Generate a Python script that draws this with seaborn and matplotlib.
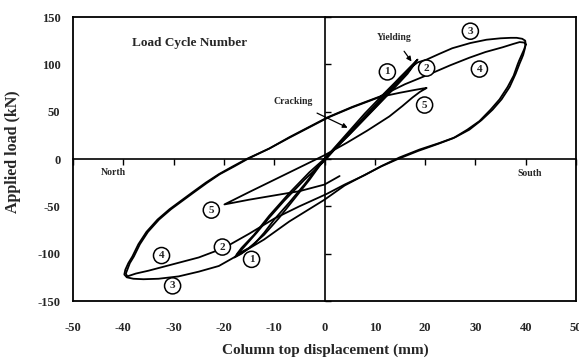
import matplotlib
matplotlib.use("Agg")
import matplotlib.pyplot as plt
import seaborn as sns
import pandas as pd

# ---- data ----
x_cycle1 = [0, 4, 8, 12, 15, 17, 18.5, 17, 14, 10, 6, 2, 0, -4, -8, -11, -13.5, -16, -17.9,
            -16.5, -14, -12, -10, -7, -4, 0]
y_cycle1 = [0, 22, 45, 68, 86, 97, 105, 95, 77, 54, 32, 10, -2, -22, -44, -62, -78, -93, -104,
            -100, -90, -78, -64, -46, -27, 0]

x_cycle2 = [0, 5, 10, 14, 16.5, 18, 16.5, 13, 9, 5, 1, -3, -7, -11, -14, -16.5, -17.5,
            -15, -12, -9, -6, -3, 0]
y_cycle2 = [0, 28, 56, 78, 92, 101, 90, 70, 48, 26, 5, -14, -36, -60, -80, -94, -101,
            -94, -80, -62, -42, -22, 0]

x_cycle3 = [0, 4, 8, 12, 15, 17, 18.5, 20.3, 22.8, 25.4, 29, 32.2, 35, 37, 38.2, 39.3, 39.9, 40,
            39.8, 39.5, 39.2, 38.8, 38, 36.8, 35.2, 33.4, 31.2, 28.8, 26, 22.9, 18.9, 14.9, 11.5,
            8.3, 4, 0, -7, -12, -18, -21, -25, -29, -33, -36, -38, -39.3, -39.8,
            -39.6, -39, -38.2, -37, -35.4, -33.2, -30.8, -28.5, -26.2, -23.6, -21, -18.3, -15.5,
            -11, -7, 0.6, 5.5, 11, 16, 21.5, 25, 28.8, 32, 35.4, 37.5, 38.8, 39.7, 40]
y_cycle3 = [0, 24, 48, 70, 86, 96, 102, 105, 111, 117, 122.5, 126, 127.5, 128, 128, 127, 125, 121,
            116, 110, 106, 101, 90, 76, 63, 52, 41, 31, 23, 17, 10, 1.6, -7,
            -16, -28, -43, -66, -85, -104, -113, -119, -124, -126.5, -127, -126.5, -125, -122,
            -117, -110, -103, -90, -77, -64, -53, -44, -35, -25, -16, -8, 0,
            11, 23, 44, 55, 66, 79, 91, 99, 107, 113, 118, 121.5, 123.5, 123, 121]

x_cycle4 = [40, 39.7, 39.2, 38.7, 38.4, 37.6, 36.4, 34.8, 33, 30.8, 28.4, 25.6, 22.6, 18.6,
            14.6, 11.2, 8, 4, 0.4, -5, -10, -15, -20, -25, -30, -35, -37.5, -39.2,
            -39.5, -39.2, -38.7, -37.9, -36.7, -35.1, -32.9, -30.5, -28.2, -25.9, -23.3, -20.8,
            -18, -15.3, -11, -6.8, 0.8, 5.5, 11]
y_cycle4 = [121, 116, 110, 104, 100, 88, 76, 63, 52, 40, 31, 22, 16, 8.5,
            0, -8, -17, -27, -37, -50, -63, -79, -94, -104, -111, -118, -121, -124,
            -121, -117, -110, -103, -90, -77, -64, -53, -44, -35, -25, -16,
            -8, 0, 11, 23, 44, 54.5, 65.5]

x_cycle5 = [11, 15, 18, 19.6, 20.3, 19, 17.5, 15.5, 12.9, 8.5, 4.4, 0, -5, -10, -15, -19.9,
            -15, -10, -5, 0, 3]
y_cycle5 = [65.5, 70, 73, 74.5, 75, 71, 65, 56, 45, 30, 17, 4, -9, -22, -35, -48,
            -43, -38.5, -34, -27, -18]

cycle_names = ["1", "2", "3", "4", "5"]
label_x_pos = [12.5, 20.3, 29.0, 30.8, 19.9]
label_y_pos = [92, 96, 135, 95, 57]
label_x_neg = [-14.5, -20.3, -30.2, -32.4, -22.5]
label_y_neg = [-106, -93, -134, -102, -54]

x_ticks = [-50, -40, -30, -20, -10, 0, 10, 20, 30, 40, 50]
y_ticks = [-150, -100, -50, 0, 50, 100, 150]

# ---- style ----
sns.set_theme(style="white")
plt.rcParams["font.family"] = ["Liberation Serif", "DejaVu Serif"]
plt.rcParams["font.weight"] = "bold"

fig = plt.figure(figsize=(5.79, 3.58), dpi=100)
pos = [73 / 579, 1 - 301 / 358, (576 - 73) / 579, (301 - 17) / 358]
ax = fig.add_axes(pos)

frames = []
for name, xs, ys in zip(cycle_names,
                        [x_cycle1, x_cycle2, x_cycle3, x_cycle4, x_cycle5],
                        [y_cycle1, y_cycle2, y_cycle3, y_cycle4, y_cycle5]):
    frames.append(pd.DataFrame({"disp": xs, "load": ys, "cycle": name}))
df = pd.concat(frames, ignore_index=True)

for name in cycle_names:
    sub = df[df["cycle"] == name]
    sns.lineplot(data=sub, x="disp", y="load", sort=False, estimator=None,
                 color="black", lw=1.3, ax=ax)

ax.set_xlim(-50, 50)
ax.set_ylim(-150, 150)
ax.set_xticks(x_ticks)
ax.set_yticks(y_ticks)
ax.set_xticklabels([str(t) for t in x_ticks], fontsize=9, fontweight="bold")
ax.set_yticklabels([str(t) for t in y_ticks], fontsize=9, fontweight="bold")
ax.tick_params(axis="x", length=0, pad=15)
ax.tick_params(axis="y", length=0, pad=9)
for s in ax.spines.values():
    s.set_color("black")
    s.set_linewidth(1.3)
ax.set_xlabel("Column top displacement (mm)", fontsize=11, fontweight="bold")
ax.set_ylabel("Applied load (kN)", fontsize=11.5, fontweight="bold")
ax.xaxis.set_label_coords(0.501, -0.148)
ax.yaxis.set_label_coords(-0.103, 0.525)

# zero-line axes with tick marks
ax2 = fig.add_axes(pos, facecolor="none")
ax2.set_xlim(-50, 50)
ax2.set_ylim(-150, 150)
ax2.set_xticks(x_ticks)
ax2.set_yticks(y_ticks)
ax2.spines["left"].set_position(("data", 0))
ax2.spines["bottom"].set_position(("data", 0))
ax2.spines["top"].set_visible(False)
ax2.spines["right"].set_visible(False)
for s in ["left", "bottom"]:
    ax2.spines[s].set_color("black")
    ax2.spines[s].set_linewidth(1.2)
ax2.tick_params(axis="x", direction="out", length=4, width=1, color="black",
                labelbottom=False, bottom=True)
ax2.tick_params(axis="y", direction="in", length=4, width=1, color="black",
                labelleft=False, left=True)
ax2.grid(False)

# circled cycle labels
for i in range(5):
    for xx, yy in [(label_x_pos[i], label_y_pos[i]), (label_x_neg[i], label_y_neg[i])]:
        ax.text(xx, yy, cycle_names[i], fontsize=8, fontweight="bold",
                ha="center", va="center", zorder=5,
                bbox=dict(boxstyle="circle,pad=0.32", fc="white", ec="black", lw=1.1))

ax.text(-26.8, 122.6, "Load Cycle Number", fontsize=9.5, fontweight="bold",
        ha="center", va="center")
ax.text(-42, -14, "North", fontsize=7, fontweight="bold", ha="center", va="center")
ax.text(40.8, -15, "South", fontsize=7, fontweight="bold", ha="center", va="center")

ax.annotate("Yielding", xy=(17.3, 103), xytext=(13.9, 128), fontsize=7,
            fontweight="bold", ha="center", va="center",
            arrowprops=dict(arrowstyle="-|>", color="black", lw=0.9,
                            mutation_scale=7, shrinkA=5, shrinkB=0))
ax.annotate("Cracking", xy=(4.6, 33), xytext=(-6.2, 60.5), fontsize=7,
            fontweight="bold", ha="center", va="center",
            arrowprops=dict(arrowstyle="-|>", color="black", lw=0.9,
                            mutation_scale=7, shrinkA=6, shrinkB=0))

fig.savefig("out.png", dpi=100)
